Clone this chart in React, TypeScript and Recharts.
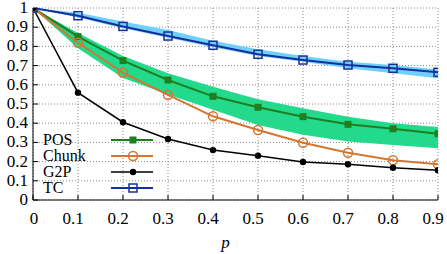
import {
  ComposedChart,
  Line,
  Area,
  XAxis,
  YAxis,
  CartesianGrid,
} from "recharts";

const P = [0, 0.1, 0.2, 0.3, 0.4, 0.5, 0.6, 0.7, 0.8, 0.9];
const POS = [1, 0.851, 0.726, 0.625, 0.54, 0.483, 0.434, 0.394, 0.371, 0.345];
const POS_LO = [1, 0.79, 0.635, 0.55, 0.47, 0.39, 0.34, 0.305, 0.286, 0.27];
const POS_HI = [1, 0.87, 0.75, 0.66, 0.59, 0.525, 0.478, 0.434, 0.4, 0.38];
const CHUNK = [1, 0.819, 0.663, 0.547, 0.436, 0.365, 0.298, 0.246, 0.207, 0.186];
const G2P = [1, 0.559, 0.405, 0.318, 0.26, 0.231, 0.198, 0.186, 0.168, 0.155];
const TC = [1, 0.96, 0.904, 0.854, 0.806, 0.759, 0.729, 0.703, 0.686, 0.665];
const TC_LO = [1, 0.95, 0.895, 0.845, 0.795, 0.75, 0.72, 0.686, 0.66, 0.634];
const TC_HI = [1, 0.975, 0.93, 0.885, 0.83, 0.785, 0.75, 0.72, 0.703, 0.68];

const X_TICKS = [0, 0.1, 0.2, 0.3, 0.4, 0.5, 0.6, 0.7, 0.8, 0.9];
const Y_TICKS = [0, 0.1, 0.2, 0.3, 0.4, 0.5, 0.6, 0.7, 0.8, 0.9, 1];

const FONT = "'Liberation Serif', serif";
const TICK_LEN = 5;
const textStyle = { fontFamily: FONT, fontSize: 17 };

const colors = {
  pos: "#1f7f1f",
  posBand: "#22d98c",
  chunk: "#d3762f",
  g2p: "#000000",
  tc: "#14309c",
  tcBand: "#6fd0fb",
};

const data = P.map((p, i) => ({
  p,
  pos: POS[i],
  posBand: [POS_LO[i], POS_HI[i]],
  chunk: CHUNK[i],
  g2p: G2P[i],
  tc: TC[i],
  tcBand: [TC_LO[i], TC_HI[i]],
}));

type Marker = "fsquare" | "ocircle" | "fcircle" | "osquare";

function drawMarker(kind: Marker, cx: number, cy: number, color: string, key?: string) {
  switch (kind) {
    case "fsquare":
      return <rect key={key} x={cx - 3.5} y={cy - 3.5} width={7} height={7} fill={color} />;
    case "ocircle":
      return <circle key={key} cx={cx} cy={cy} r={4.5} fill="none" stroke={color} strokeWidth={1.5} />;
    case "fcircle":
      return <circle key={key} cx={cx} cy={cy} r={3.2} fill={color} />;
    case "osquare":
      return (
        <rect key={key} x={cx - 4} y={cy - 4} width={8} height={8} fill="none" stroke={color} strokeWidth={1.5} />
      );
  }
}

const series: { key: string; name: string; color: string; width: number; marker: Marker }[] = [
  { key: "pos", name: "POS", color: colors.pos, width: 2, marker: "fsquare" },
  { key: "chunk", name: "Chunk", color: colors.chunk, width: 2, marker: "ocircle" },
  { key: "g2p", name: "G2P", color: colors.g2p, width: 1.5, marker: "fcircle" },
  { key: "tc", name: "TC", color: colors.tc, width: 2, marker: "osquare" },
];

const fmt = (v: number) => String(v);

// ticks point inward, gnuplot style
function LeftTick({ x, y, payload }: any) {
  return (
    <g>
      <line x1={x + 5} x2={x + 5 + TICK_LEN} y1={y} y2={y} stroke="#000" />
      <text x={x} y={y} dy={5} textAnchor="end" style={textStyle} fill="#000">
        {fmt(payload.value)}
      </text>
    </g>
  );
}

function BottomTick({ x, y, payload }: any) {
  const label = fmt(payload.value);
  return (
    <g>
      <line x1={x} x2={x} y1={y} y2={y - TICK_LEN} stroke="#000" />
      <text
        x={x}
        y={y}
        dy={24}
        dx={label.length > 1 ? -5 : 1}
        textAnchor="middle"
        style={textStyle}
        fill="#000"
      >
        {label}
      </text>
    </g>
  );
}

function TopTick({ x, y }: any) {
  return <line x1={x} x2={x} y1={y} y2={y + TICK_LEN} stroke="#000" />;
}

function RightTick({ x, y }: any) {
  return <line x1={x} x2={x - TICK_LEN} y1={y} y2={y} stroke="#000" />;
}

function KeyBox() {
  return (
    <div
      style={{
        position: "absolute",
        left: 43,
        top: 132,
        fontFamily: FONT,
        fontSize: 16,
        lineHeight: "16px",
        color: "#000",
      }}
    >
      {series.map((s) => (
        <div key={s.key} style={{ display: "flex", alignItems: "center", height: 16 }}>
          <span style={{ width: 68 }}>{s.name}</span>
          <svg width={44} height={12}>
            <line x1={0} x2={42} y1={6} y2={6} stroke={s.color} strokeWidth={s.width} />
            {drawMarker(s.marker, 22, 6, s.color)}
          </svg>
        </div>
      ))}
    </div>
  );
}

export default function App() {
  return (
    <div style={{ position: "absolute", left: 0, top: 0, width: 447, height: 254, background: "#fff" }}>
      <ComposedChart width={447} height={254} data={data} margin={{ top: 8, right: 9, bottom: 0, left: 0 }}>
        <CartesianGrid stroke="#8a8a8a" strokeDasharray="1 2" />
        <XAxis
          dataKey="p"
          type="number"
          domain={[0, 0.9]}
          ticks={X_TICKS}
          allowDataOverflow
          height={54}
          tickSize={0}
          tickMargin={0}
          tick={<BottomTick />}
          axisLine={{ stroke: "#000" }}
          interval={0}
          label={({ viewBox }: any) => (
            <text
              x={viewBox.x + viewBox.width / 2 - 10}
              y={viewBox.y + 48}
              textAnchor="middle"
              style={{ ...textStyle, fontStyle: "italic" }}
              fill="#000"
            >
              p
            </text>
          )}
        />
        <XAxis
          xAxisId="top"
          orientation="top"
          dataKey="p"
          type="number"
          domain={[0, 0.9]}
          ticks={X_TICKS}
          allowDataOverflow
          height={0}
          tickSize={0}
          tickMargin={0}
          tick={<TopTick />}
          axisLine={{ stroke: "#000" }}
          interval={0}
        />
        <YAxis
          type="number"
          domain={[0, 1]}
          ticks={Y_TICKS}
          allowDataOverflow
          width={33}
          tickSize={0}
          tickMargin={5}
          tick={<LeftTick />}
          axisLine={{ stroke: "#000" }}
          interval={0}
        />
        <YAxis
          yAxisId="r"
          orientation="right"
          type="number"
          domain={[0, 1]}
          ticks={Y_TICKS}
          allowDataOverflow
          width={0}
          tickSize={0}
          tickMargin={0}
          tick={<RightTick />}
          axisLine={{ stroke: "#000" }}
          interval={0}
        />
        <Area
          type="linear"
          dataKey="tcBand"
          stroke="none"
          fill={colors.tcBand}
          fillOpacity={1}
          activeDot={false}
          legendType="none"
          isAnimationActive={false}
        />
        <Area
          type="linear"
          dataKey="posBand"
          stroke="none"
          fill={colors.posBand}
          fillOpacity={1}
          activeDot={false}
          legendType="none"
          isAnimationActive={false}
        />
        {series.map((s) => (
          <Line
            key={s.key}
            type="linear"
            dataKey={s.key}
            name={s.name}
            stroke={s.color}
            strokeWidth={s.width}
            dot={(d: any) => drawMarker(s.marker, d.cx, d.cy, s.color, `${s.key}-${d.index}`)}
            activeDot={false}
            isAnimationActive={false}
          />
        ))}
      </ComposedChart>
      <KeyBox />
    </div>
  );
}
